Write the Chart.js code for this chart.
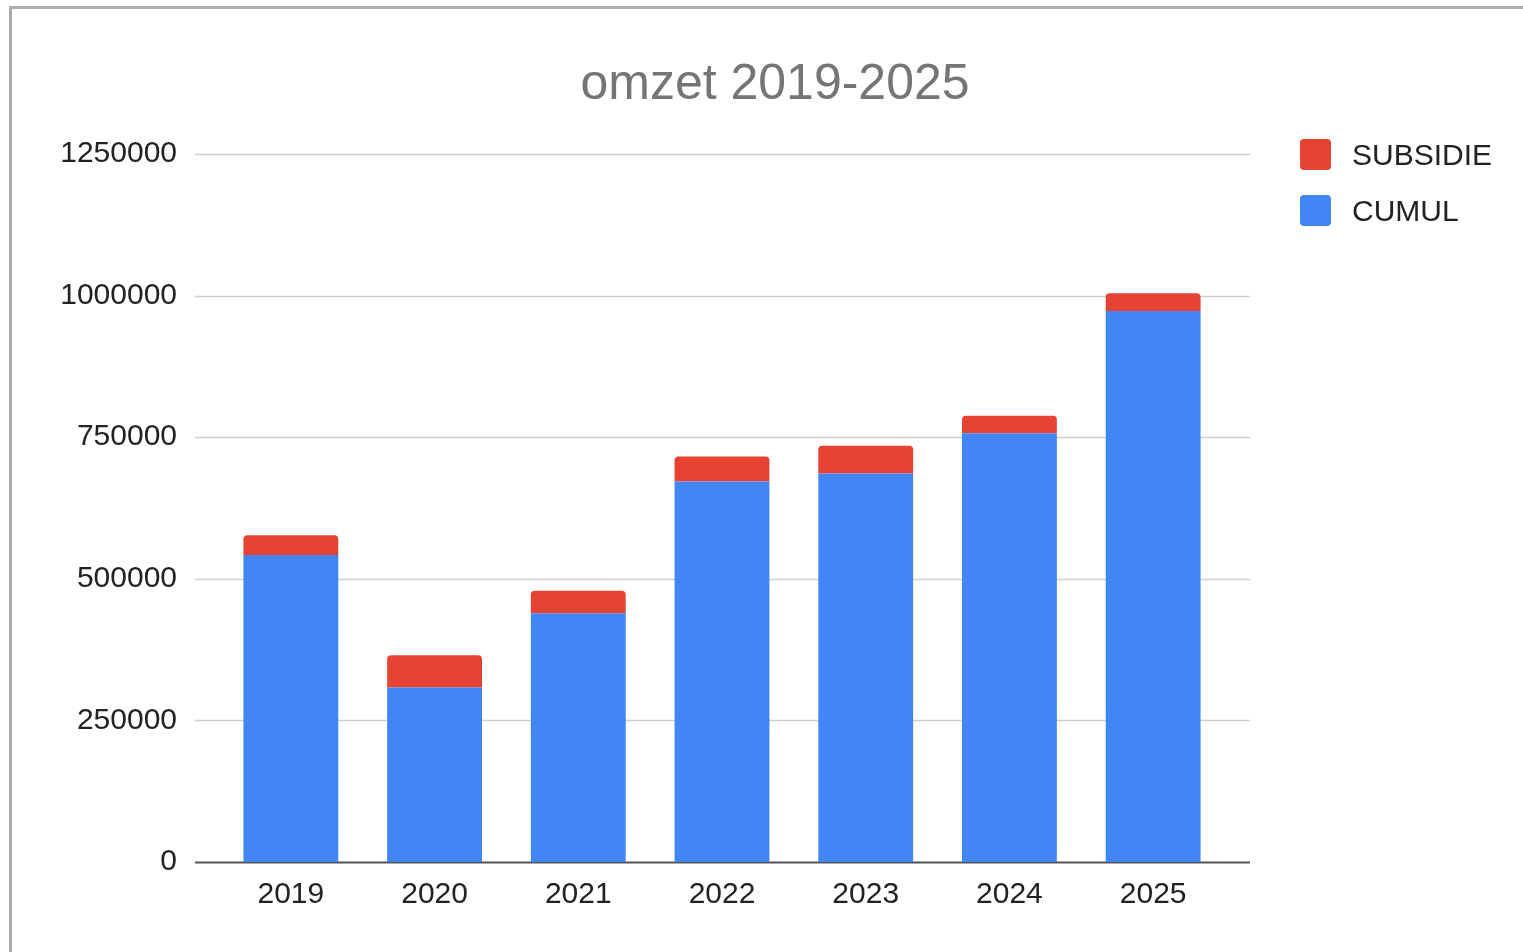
<!DOCTYPE html>
<html>
<head>
<meta charset="utf-8">
<title>omzet 2019-2025</title>
<script src="https://cdn.jsdelivr.net/npm/chart.js@4.4.1/dist/chart.umd.min.js"></script>
<style>
  html, body { margin: 0; padding: 0; background: #fff; overflow: hidden; }
  #frame {
    position: absolute; left: 9px; top: 6px; right: 0; bottom: 0;
    border-top: 3px solid #ababab; border-left: 3px solid #ababab;
  }
  #wrap { position: absolute; left: 0; top: 0; width: 1523px; height: 952px; }
</style>
</head>
<body>
<div id="frame"></div>
<div id="wrap"><canvas id="omzet"></canvas></div>
<script>
// jaren en bedragen
const years = ['2019', '2020', '2021', '2022', '2023', '2024', '2025'];
const cumul = [542000, 308000, 439000, 672000, 686000, 757000, 973000];
const subsidie = [35000, 57000, 40000, 44000, 49000, 31000, 31000];
const yTicks = [0, 250000, 500000, 750000, 1000000, 1250000];

const FONT = '"Liberation Sans", Arial, sans-serif';

// rasterlijnen iets breder dan het plotgebied, zoals in Google Sheets
const gridPlugin = {
    id: 'gridPlugin',
    beforeDatasetsDraw(chart) {
        const ctx = chart.ctx;
        const y = chart.scales.y;
        const left = chart.chartArea.left - 24;
        const right = chart.chartArea.right + 25;
        ctx.save();
        yTicks.forEach(v => {
            const py = Math.round(y.getPixelForValue(v)) + 0.5;
            ctx.beginPath();
            ctx.strokeStyle = v === 0 ? '#555555' : '#cfcfcf';
            ctx.lineWidth = v === 0 ? 2 : 1.5;
            ctx.moveTo(left, py);
            ctx.lineTo(right, py);
            ctx.stroke();
        });
        ctx.restore();
    }
};

// legenda rechts, SUBSIDIE bovenaan
const legendPlugin = {
    id: 'legendPlugin',
    afterDraw(chart) {
        const ctx = chart.ctx;
        const items = chart.data.datasets.slice().reverse();
        ctx.save();
        ctx.font = '30px ' + FONT;
        ctx.textBaseline = 'alphabetic';
        ctx.textAlign = 'left';
        items.forEach((ds, i) => {
            const top = 139 + i * 56;
            ctx.fillStyle = ds.backgroundColor;
            ctx.beginPath();
            ctx.roundRect(1300, top, 31, 31, 4);
            ctx.fill();
            ctx.fillStyle = '#222222';
            ctx.fillText(ds.label, 1352, top + 26);
        });
        ctx.restore();
    }
};

const ctx = document.getElementById('omzet');
new Chart(ctx, {
    type: 'bar',
    data: {
        labels: years,
        datasets: [
            {
                label: 'CUMUL',
                data: cumul,
                backgroundColor: '#4285f4',
                borderWidth: 0,
                barPercentage: 0.66,
                categoryPercentage: 1
            },
            {
                label: 'SUBSIDIE',
                data: subsidie,
                backgroundColor: '#e64333',
                borderWidth: 0,
                borderRadius: { topLeft: 4, topRight: 4 },
                borderSkipped: false,
                barPercentage: 0.66,
                categoryPercentage: 1
            }
        ]
    },
    options: {
        responsive: true,
        maintainAspectRatio: false,
        animation: false,
        layout: {
            padding: { left: 27, right: 0, top: 0, bottom: 24 }
        },
        scales: {
            x: {
                stacked: true,
                grid: { display: false, drawTicks: false },
                border: { display: false },
                ticks: {
                    padding: 15,
                    color: '#222222',
                    font: { family: FONT, size: 30 }
                }
            },
            y: {
                stacked: true,
                min: 0,
                max: 1250000,
                grid: { display: false, drawTicks: false },
                border: { display: false },
                afterFit: (scale) => { scale.width = 192; },
                ticks: {
                    stepSize: 250000,
                    padding: 42,
                    color: '#222222',
                    font: { family: FONT, size: 30 },
                    callback: (v) => String(v)
                }
            },
            // lege as rechts: ruimte voor de legenda
            yRight: {
                position: 'right',
                grid: { display: false, drawTicks: false },
                border: { display: false },
                ticks: { display: false },
                afterFit: (scale) => { scale.width = 298; }
            }
        },
        plugins: {
            legend: { display: false },
            tooltip: { enabled: false },
            title: {
                display: true,
                text: 'omzet 2019-2025',
                color: '#757575',
                font: { family: FONT, size: 50, weight: 'normal' },
                padding: { top: 55, bottom: 39 }
            }
        }
    },
    plugins: [gridPlugin, legendPlugin]
});
</script>
</body>
</html>
